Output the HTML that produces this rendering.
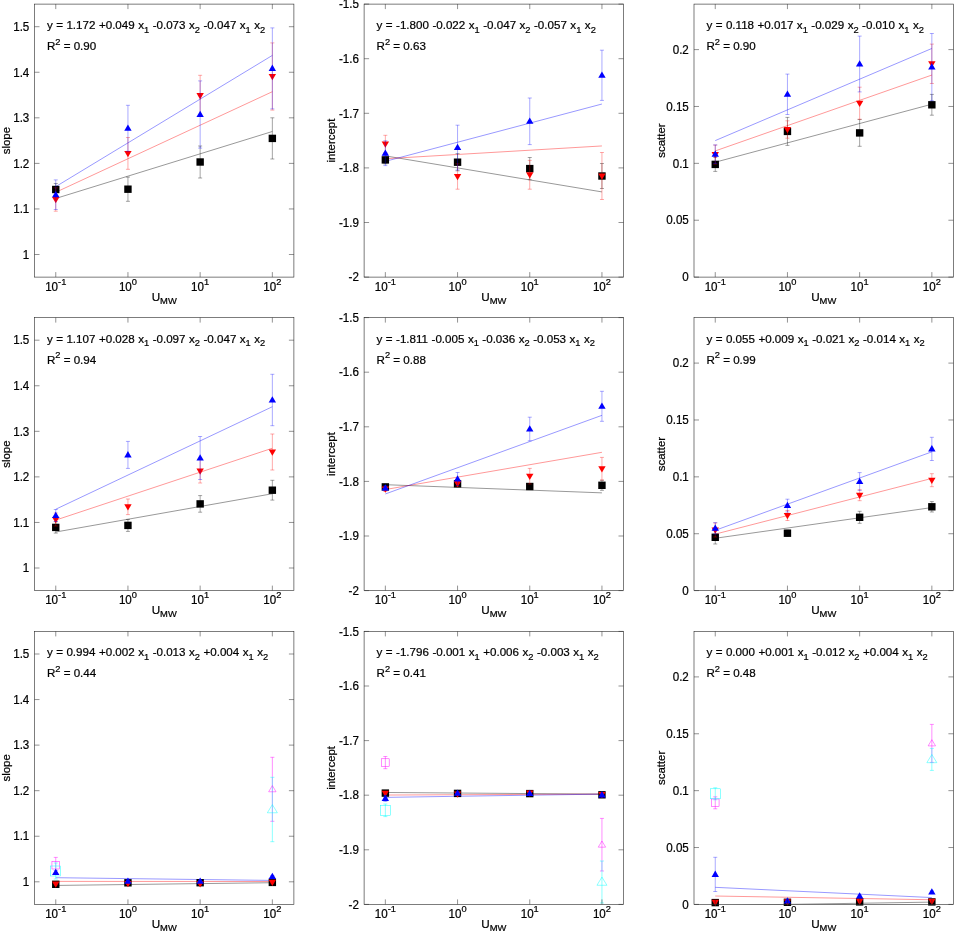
<!DOCTYPE html>
<html><head><meta charset="utf-8"><title>Regression panels</title>
<style>
html,body{margin:0;padding:0;background:#fff;}
body{width:954px;height:931px;overflow:hidden;font-family:"Liberation Sans",sans-serif;}
svg{display:block;will-change:transform;}
</style></head><body>
<svg width="954" height="931" viewBox="0 0 954 931" font-family="'Liberation Sans', sans-serif" fill="#000000">
<style>text{stroke:#000;stroke-width:0.22px;}</style>
<g>
<clipPath id="cp00"><rect x="34.5" y="4.1" width="259.4" height="273"/></clipPath>
<g clip-path="url(#cp00)">
<line x1="55.75" y1="198.46" x2="272.35" y2="131.49" stroke="#000000" stroke-width="0.41"/>
<line x1="55.75" y1="192.27" x2="272.35" y2="91.7" stroke="#ff0000" stroke-width="0.41"/>
<line x1="55.75" y1="186.62" x2="272.35" y2="55.4" stroke="#0000ff" stroke-width="0.41"/>
</g>
<path d="M55.75 183.5V195.5M53.75 183.5h4M53.75 195.5h4" stroke="#000000" stroke-width="0.36" fill="none"/>
<path d="M127.95 177.1V201.3M125.95 177.1h4M125.95 201.3h4" stroke="#000000" stroke-width="0.36" fill="none"/>
<path d="M200.15 146V178M198.15 146h4M198.15 178h4" stroke="#000000" stroke-width="0.36" fill="none"/>
<path d="M272.35 117.8V159M270.35 117.8h4M270.35 159h4" stroke="#000000" stroke-width="0.36" fill="none"/>
<rect x="52.05" y="185.8" width="7.4" height="7.4" fill="#000000"/>
<rect x="124.25" y="185.5" width="7.4" height="7.4" fill="#000000"/>
<rect x="196.45" y="158.3" width="7.4" height="7.4" fill="#000000"/>
<rect x="268.65" y="134.7" width="7.4" height="7.4" fill="#000000"/>
<path d="M55.75 187.8V211.2M53.75 187.8h4M53.75 211.2h4" stroke="#ff0000" stroke-width="0.34" fill="none"/>
<path d="M127.95 137.5V169.3M125.95 137.5h4M125.95 169.3h4" stroke="#ff0000" stroke-width="0.34" fill="none"/>
<path d="M200.15 75.3V115.9M198.15 75.3h4M198.15 115.9h4" stroke="#ff0000" stroke-width="0.34" fill="none"/>
<path d="M272.35 42.9V110.1M270.35 42.9h4M270.35 110.1h4" stroke="#ff0000" stroke-width="0.34" fill="none"/>
<polygon points="52.05,196.98 59.45,196.98 55.75,203.28" fill="#ff0000"/>
<polygon points="124.25,150.88 131.65,150.88 127.95,157.18" fill="#ff0000"/>
<polygon points="196.45,93.08 203.85,93.08 200.15,99.38" fill="#ff0000"/>
<polygon points="268.65,73.98 276.05,73.98 272.35,80.28" fill="#ff0000"/>
<path d="M55.75 179.9V209.5M53.75 179.9h4M53.75 209.5h4" stroke="#0000ff" stroke-width="0.34" fill="none"/>
<path d="M127.95 105.3V151.3M125.95 105.3h4M125.95 151.3h4" stroke="#0000ff" stroke-width="0.34" fill="none"/>
<path d="M200.15 80.9V148.1M198.15 80.9h4M198.15 148.1h4" stroke="#0000ff" stroke-width="0.34" fill="none"/>
<path d="M272.35 27.9V108.9M270.35 27.9h4M270.35 108.9h4" stroke="#0000ff" stroke-width="0.34" fill="none"/>
<polygon points="52.05,197.22 59.45,197.22 55.75,190.92" fill="#0000ff"/>
<polygon points="124.25,130.82 131.65,130.82 127.95,124.52" fill="#0000ff"/>
<polygon points="196.45,117.02 203.85,117.02 200.15,110.72" fill="#0000ff"/>
<polygon points="268.65,70.92 276.05,70.92 272.35,64.62" fill="#0000ff"/>
<rect x="34.5" y="4.1" width="259.4" height="273" fill="none" stroke="#262626" stroke-width="0.6"/>
<path d="M55.75 277.1v-5M55.75 4.1v5M127.95 277.1v-5M127.95 4.1v5M200.15 277.1v-5M200.15 4.1v5M272.35 277.1v-5M272.35 4.1v5M34.5 254.5h5M293.9 254.5h-5M34.5 208.94h5M293.9 208.94h-5M34.5 163.38h5M293.9 163.38h-5M34.5 117.82h5M293.9 117.82h-5M34.5 72.26h5M293.9 72.26h-5M34.5 26.7h5M293.9 26.7h-5" stroke="#262626" stroke-width="0.5" fill="none"/>
<text transform="translate(29.3 258.75) scale(1 1.07)" font-size="11.6" text-anchor="end">1</text>
<text transform="translate(29.3 213.19) scale(1 1.07)" font-size="11.6" text-anchor="end">1.1</text>
<text transform="translate(29.3 167.63) scale(1 1.07)" font-size="11.6" text-anchor="end">1.2</text>
<text transform="translate(29.3 122.07) scale(1 1.07)" font-size="11.6" text-anchor="end">1.3</text>
<text transform="translate(29.3 76.51) scale(1 1.07)" font-size="11.6" text-anchor="end">1.4</text>
<text transform="translate(29.3 30.95) scale(1 1.07)" font-size="11.6" text-anchor="end">1.5</text>
<text transform="translate(55.75 290.9) scale(1 1.07)" font-size="11.6" text-anchor="middle">10<tspan font-size="9.3" dy="-5.9">-1</tspan></text>
<text transform="translate(127.95 290.9) scale(1 1.07)" font-size="11.6" text-anchor="middle">10<tspan font-size="9.3" dy="-5.9">0</tspan></text>
<text transform="translate(200.15 290.9) scale(1 1.07)" font-size="11.6" text-anchor="middle">10<tspan font-size="9.3" dy="-5.9">1</tspan></text>
<text transform="translate(272.35 290.9) scale(1 1.07)" font-size="11.6" text-anchor="middle">10<tspan font-size="9.3" dy="-5.9">2</tspan></text>
<text x="164.2" y="300.7" font-size="11.7" text-anchor="middle">U<tspan font-size="9.4" dy="3.2">MW</tspan></text>
<text transform="translate(9.9 140.6) rotate(-90)" font-size="11.45" text-anchor="middle">slope</text>
<text x="46.9" y="29.1" font-size="11.6" word-spacing="0.26" xml:space="preserve">y = 1.172 +0.049 x<tspan dy="3.4" font-size="9.3">1</tspan><tspan dy="-3.4" font-size="11.6"> -0.073 x</tspan><tspan dy="3.4" font-size="9.3">2</tspan><tspan dy="-3.4" font-size="11.6"> -0.047 x</tspan><tspan dy="3.4" font-size="9.3">1</tspan><tspan dy="-3.4" font-size="11.6"> x</tspan><tspan dy="3.4" font-size="9.3">2</tspan></text>
<text x="46.9" y="50" font-size="11.6" xml:space="preserve">R<tspan font-size="9.3" dy="-5.1">2</tspan><tspan dy="5.1" font-size="11.6"> = 0.90</tspan></text>
</g>
<g>
<clipPath id="cp01"><rect x="364.1" y="4.1" width="259.4" height="273"/></clipPath>
<g clip-path="url(#cp01)">
<line x1="385.35" y1="155.89" x2="601.95" y2="191.92" stroke="#000000" stroke-width="0.41"/>
<line x1="385.35" y1="158.74" x2="601.95" y2="145.95" stroke="#ff0000" stroke-width="0.41"/>
<line x1="385.35" y1="161.35" x2="601.95" y2="104.02" stroke="#0000ff" stroke-width="0.41"/>
</g>
<path d="M385.35 155.9V163.9M383.35 155.9h4M383.35 163.9h4" stroke="#000000" stroke-width="0.36" fill="none"/>
<path d="M457.55 153.6V170.8M455.55 153.6h4M455.55 170.8h4" stroke="#000000" stroke-width="0.36" fill="none"/>
<path d="M529.75 157.5V179.7M527.75 157.5h4M527.75 179.7h4" stroke="#000000" stroke-width="0.36" fill="none"/>
<path d="M601.95 163.5V188.5M599.95 163.5h4M599.95 188.5h4" stroke="#000000" stroke-width="0.36" fill="none"/>
<rect x="381.65" y="156.2" width="7.4" height="7.4" fill="#000000"/>
<rect x="453.85" y="158.5" width="7.4" height="7.4" fill="#000000"/>
<rect x="526.05" y="164.9" width="7.4" height="7.4" fill="#000000"/>
<rect x="598.25" y="172.3" width="7.4" height="7.4" fill="#000000"/>
<path d="M385.35 135.3V152.7M383.35 135.3h4M383.35 152.7h4" stroke="#ff0000" stroke-width="0.34" fill="none"/>
<path d="M457.55 163.8V189.2M455.55 163.8h4M455.55 189.2h4" stroke="#ff0000" stroke-width="0.34" fill="none"/>
<path d="M529.75 160.4V189.2M527.75 160.4h4M527.75 189.2h4" stroke="#ff0000" stroke-width="0.34" fill="none"/>
<path d="M601.95 152.5V199.5M599.95 152.5h4M599.95 199.5h4" stroke="#ff0000" stroke-width="0.34" fill="none"/>
<polygon points="381.65,141.48 389.05,141.48 385.35,147.78" fill="#ff0000"/>
<polygon points="453.85,173.98 461.25,173.98 457.55,180.28" fill="#ff0000"/>
<polygon points="526.05,172.28 533.45,172.28 529.75,178.58" fill="#ff0000"/>
<polygon points="598.25,173.48 605.65,173.48 601.95,179.78" fill="#ff0000"/>
<path d="M385.35 140.8V165.6M383.35 140.8h4M383.35 165.6h4" stroke="#0000ff" stroke-width="0.34" fill="none"/>
<path d="M457.55 125.2V170M455.55 125.2h4M455.55 170h4" stroke="#0000ff" stroke-width="0.34" fill="none"/>
<path d="M529.75 98V144.6M527.75 98h4M527.75 144.6h4" stroke="#0000ff" stroke-width="0.34" fill="none"/>
<path d="M601.95 50.2V100.4M599.95 50.2h4M599.95 100.4h4" stroke="#0000ff" stroke-width="0.34" fill="none"/>
<polygon points="381.65,155.72 389.05,155.72 385.35,149.42" fill="#0000ff"/>
<polygon points="453.85,150.12 461.25,150.12 457.55,143.82" fill="#0000ff"/>
<polygon points="526.05,123.82 533.45,123.82 529.75,117.52" fill="#0000ff"/>
<polygon points="598.25,77.82 605.65,77.82 601.95,71.52" fill="#0000ff"/>
<rect x="364.1" y="4.1" width="259.4" height="273" fill="none" stroke="#262626" stroke-width="0.6"/>
<path d="M385.35 277.1v-5M385.35 4.1v5M457.55 277.1v-5M457.55 4.1v5M529.75 277.1v-5M529.75 4.1v5M601.95 277.1v-5M601.95 4.1v5M364.1 277.1h5M623.5 277.1h-5M364.1 222.5h5M623.5 222.5h-5M364.1 167.9h5M623.5 167.9h-5M364.1 113.3h5M623.5 113.3h-5M364.1 58.7h5M623.5 58.7h-5M364.1 4.1h5M623.5 4.1h-5" stroke="#262626" stroke-width="0.5" fill="none"/>
<text transform="translate(358.9 281.35) scale(1 1.07)" font-size="11.6" text-anchor="end">-2</text>
<text transform="translate(358.9 226.75) scale(1 1.07)" font-size="11.6" text-anchor="end">-1.9</text>
<text transform="translate(358.9 172.15) scale(1 1.07)" font-size="11.6" text-anchor="end">-1.8</text>
<text transform="translate(358.9 117.55) scale(1 1.07)" font-size="11.6" text-anchor="end">-1.7</text>
<text transform="translate(358.9 62.95) scale(1 1.07)" font-size="11.6" text-anchor="end">-1.6</text>
<text transform="translate(358.9 8.35) scale(1 1.07)" font-size="11.6" text-anchor="end">-1.5</text>
<text transform="translate(385.35 290.9) scale(1 1.07)" font-size="11.6" text-anchor="middle">10<tspan font-size="9.3" dy="-5.9">-1</tspan></text>
<text transform="translate(457.55 290.9) scale(1 1.07)" font-size="11.6" text-anchor="middle">10<tspan font-size="9.3" dy="-5.9">0</tspan></text>
<text transform="translate(529.75 290.9) scale(1 1.07)" font-size="11.6" text-anchor="middle">10<tspan font-size="9.3" dy="-5.9">1</tspan></text>
<text transform="translate(601.95 290.9) scale(1 1.07)" font-size="11.6" text-anchor="middle">10<tspan font-size="9.3" dy="-5.9">2</tspan></text>
<text x="493.8" y="300.7" font-size="11.7" text-anchor="middle">U<tspan font-size="9.4" dy="3.2">MW</tspan></text>
<text transform="translate(335 140.6) rotate(-90)" font-size="11.45" text-anchor="middle">intercept</text>
<text x="376.5" y="29.1" font-size="11.6" word-spacing="0.26" xml:space="preserve">y = -1.800 -0.022 x<tspan dy="3.4" font-size="9.3">1</tspan><tspan dy="-3.4" font-size="11.6"> -0.047 x</tspan><tspan dy="3.4" font-size="9.3">2</tspan><tspan dy="-3.4" font-size="11.6"> -0.057 x</tspan><tspan dy="3.4" font-size="9.3">1</tspan><tspan dy="-3.4" font-size="11.6"> x</tspan><tspan dy="3.4" font-size="9.3">2</tspan></text>
<text x="376.5" y="50" font-size="11.6" xml:space="preserve">R<tspan font-size="9.3" dy="-5.1">2</tspan><tspan dy="5.1" font-size="11.6"> = 0.63</tspan></text>
</g>
<g>
<clipPath id="cp02"><rect x="694" y="4.1" width="259.4" height="273"/></clipPath>
<g clip-path="url(#cp02)">
<line x1="715.25" y1="162.21" x2="931.85" y2="104.2" stroke="#000000" stroke-width="0.41"/>
<line x1="715.25" y1="150.91" x2="931.85" y2="75.05" stroke="#ff0000" stroke-width="0.41"/>
<line x1="715.25" y1="140.6" x2="931.85" y2="48.46" stroke="#0000ff" stroke-width="0.41"/>
</g>
<path d="M715.25 157.4V171.4M713.25 157.4h4M713.25 171.4h4" stroke="#000000" stroke-width="0.36" fill="none"/>
<path d="M787.45 117.4V145.4M785.45 117.4h4M785.45 145.4h4" stroke="#000000" stroke-width="0.36" fill="none"/>
<path d="M859.65 119.5V146.3M857.65 119.5h4M857.65 146.3h4" stroke="#000000" stroke-width="0.36" fill="none"/>
<path d="M931.85 94.4V115.2M929.85 94.4h4M929.85 115.2h4" stroke="#000000" stroke-width="0.36" fill="none"/>
<rect x="711.55" y="160.7" width="7.4" height="7.4" fill="#000000"/>
<rect x="783.75" y="127.7" width="7.4" height="7.4" fill="#000000"/>
<rect x="855.95" y="129.2" width="7.4" height="7.4" fill="#000000"/>
<rect x="928.15" y="101.1" width="7.4" height="7.4" fill="#000000"/>
<path d="M715.25 145.1V164.1M713.25 145.1h4M713.25 164.1h4" stroke="#ff0000" stroke-width="0.34" fill="none"/>
<path d="M787.45 120.8V138.2M785.45 120.8h4M785.45 138.2h4" stroke="#ff0000" stroke-width="0.34" fill="none"/>
<path d="M859.65 87.2V119.2M857.65 87.2h4M857.65 119.2h4" stroke="#ff0000" stroke-width="0.34" fill="none"/>
<path d="M931.85 44.1V83.5M929.85 44.1h4M929.85 83.5h4" stroke="#ff0000" stroke-width="0.34" fill="none"/>
<polygon points="711.55,152.08 718.95,152.08 715.25,158.38" fill="#ff0000"/>
<polygon points="783.75,126.98 791.15,126.98 787.45,133.28" fill="#ff0000"/>
<polygon points="855.95,100.68 863.35,100.68 859.65,106.98" fill="#ff0000"/>
<polygon points="928.15,61.28 935.55,61.28 931.85,67.58" fill="#ff0000"/>
<path d="M715.25 144.9V163.5M713.25 144.9h4M713.25 163.5h4" stroke="#0000ff" stroke-width="0.34" fill="none"/>
<path d="M787.45 74.1V114.5M785.45 74.1h4M785.45 114.5h4" stroke="#0000ff" stroke-width="0.34" fill="none"/>
<path d="M859.65 36.1V91.9M857.65 36.1h4M857.65 91.9h4" stroke="#0000ff" stroke-width="0.34" fill="none"/>
<path d="M931.85 33.5V100.7M929.85 33.5h4M929.85 100.7h4" stroke="#0000ff" stroke-width="0.34" fill="none"/>
<polygon points="711.55,156.72 718.95,156.72 715.25,150.42" fill="#0000ff"/>
<polygon points="783.75,96.82 791.15,96.82 787.45,90.52" fill="#0000ff"/>
<polygon points="855.95,66.52 863.35,66.52 859.65,60.22" fill="#0000ff"/>
<polygon points="928.15,69.62 935.55,69.62 931.85,63.32" fill="#0000ff"/>
<rect x="694" y="4.1" width="259.4" height="273" fill="none" stroke="#262626" stroke-width="0.6"/>
<path d="M715.25 277.1v-5M715.25 4.1v5M787.45 277.1v-5M787.45 4.1v5M859.65 277.1v-5M859.65 4.1v5M931.85 277.1v-5M931.85 4.1v5M694 277.1h5M953.4 277.1h-5M694 220.23h5M953.4 220.23h-5M694 163.35h5M953.4 163.35h-5M694 106.48h5M953.4 106.48h-5M694 49.6h5M953.4 49.6h-5" stroke="#262626" stroke-width="0.5" fill="none"/>
<text transform="translate(688.8 281.35) scale(1 1.07)" font-size="11.6" text-anchor="end">0</text>
<text transform="translate(688.8 224.48) scale(1 1.07)" font-size="11.6" text-anchor="end">0.05</text>
<text transform="translate(688.8 167.6) scale(1 1.07)" font-size="11.6" text-anchor="end">0.1</text>
<text transform="translate(688.8 110.73) scale(1 1.07)" font-size="11.6" text-anchor="end">0.15</text>
<text transform="translate(688.8 53.85) scale(1 1.07)" font-size="11.6" text-anchor="end">0.2</text>
<text transform="translate(715.25 290.9) scale(1 1.07)" font-size="11.6" text-anchor="middle">10<tspan font-size="9.3" dy="-5.9">-1</tspan></text>
<text transform="translate(787.45 290.9) scale(1 1.07)" font-size="11.6" text-anchor="middle">10<tspan font-size="9.3" dy="-5.9">0</tspan></text>
<text transform="translate(859.65 290.9) scale(1 1.07)" font-size="11.6" text-anchor="middle">10<tspan font-size="9.3" dy="-5.9">1</tspan></text>
<text transform="translate(931.85 290.9) scale(1 1.07)" font-size="11.6" text-anchor="middle">10<tspan font-size="9.3" dy="-5.9">2</tspan></text>
<text x="823.7" y="300.7" font-size="11.7" text-anchor="middle">U<tspan font-size="9.4" dy="3.2">MW</tspan></text>
<text transform="translate(665.2 140.6) rotate(-90)" font-size="11.45" text-anchor="middle">scatter</text>
<text x="706.4" y="29.1" font-size="11.6" word-spacing="0.26" xml:space="preserve">y = 0.118 +0.017 x<tspan dy="3.4" font-size="9.3">1</tspan><tspan dy="-3.4" font-size="11.6"> -0.029 x</tspan><tspan dy="3.4" font-size="9.3">2</tspan><tspan dy="-3.4" font-size="11.6"> -0.010 x</tspan><tspan dy="3.4" font-size="9.3">1</tspan><tspan dy="-3.4" font-size="11.6"> x</tspan><tspan dy="3.4" font-size="9.3">2</tspan></text>
<text x="706.4" y="50" font-size="11.6" xml:space="preserve">R<tspan font-size="9.3" dy="-5.1">2</tspan><tspan dy="5.1" font-size="11.6"> = 0.90</tspan></text>
</g>
<g>
<clipPath id="cp10"><rect x="34.5" y="317.6" width="259.4" height="273"/></clipPath>
<g clip-path="url(#cp10)">
<line x1="55.75" y1="532.01" x2="272.35" y2="493.74" stroke="#000000" stroke-width="0.41"/>
<line x1="55.75" y1="520.09" x2="272.35" y2="448.23" stroke="#ff0000" stroke-width="0.41"/>
<line x1="55.75" y1="509.23" x2="272.35" y2="406.72" stroke="#0000ff" stroke-width="0.41"/>
</g>
<path d="M55.75 521.7V533.1M53.75 521.7h4M53.75 533.1h4" stroke="#000000" stroke-width="0.36" fill="none"/>
<path d="M127.95 519.4V531.4M125.95 519.4h4M125.95 531.4h4" stroke="#000000" stroke-width="0.36" fill="none"/>
<path d="M200.15 495.6V512.2M198.15 495.6h4M198.15 512.2h4" stroke="#000000" stroke-width="0.36" fill="none"/>
<path d="M272.35 480.3V500.1M270.35 480.3h4M270.35 500.1h4" stroke="#000000" stroke-width="0.36" fill="none"/>
<rect x="52.05" y="523.7" width="7.4" height="7.4" fill="#000000"/>
<rect x="124.25" y="521.7" width="7.4" height="7.4" fill="#000000"/>
<rect x="196.45" y="500.2" width="7.4" height="7.4" fill="#000000"/>
<rect x="268.65" y="486.5" width="7.4" height="7.4" fill="#000000"/>
<path d="M55.75 513V526M53.75 513h4M53.75 526h4" stroke="#ff0000" stroke-width="0.34" fill="none"/>
<path d="M127.95 499V514.6M125.95 499h4M125.95 514.6h4" stroke="#ff0000" stroke-width="0.34" fill="none"/>
<path d="M200.15 459V483M198.15 459h4M198.15 483h4" stroke="#ff0000" stroke-width="0.34" fill="none"/>
<path d="M272.35 434V470M270.35 434h4M270.35 470h4" stroke="#ff0000" stroke-width="0.34" fill="none"/>
<polygon points="52.05,516.98 59.45,516.98 55.75,523.28" fill="#ff0000"/>
<polygon points="124.25,504.28 131.65,504.28 127.95,510.58" fill="#ff0000"/>
<polygon points="196.45,468.48 203.85,468.48 200.15,474.78" fill="#ff0000"/>
<polygon points="268.65,449.48 276.05,449.48 272.35,455.78" fill="#ff0000"/>
<path d="M55.75 509.5V521.5M53.75 509.5h4M53.75 521.5h4" stroke="#0000ff" stroke-width="0.34" fill="none"/>
<path d="M127.95 441.4V468.4M125.95 441.4h4M125.95 468.4h4" stroke="#0000ff" stroke-width="0.34" fill="none"/>
<path d="M200.15 436.5V479.5M198.15 436.5h4M198.15 479.5h4" stroke="#0000ff" stroke-width="0.34" fill="none"/>
<path d="M272.35 374.3V425.7M270.35 374.3h4M270.35 425.7h4" stroke="#0000ff" stroke-width="0.34" fill="none"/>
<polygon points="52.05,518.02 59.45,518.02 55.75,511.72" fill="#0000ff"/>
<polygon points="124.25,457.42 131.65,457.42 127.95,451.12" fill="#0000ff"/>
<polygon points="196.45,460.52 203.85,460.52 200.15,454.22" fill="#0000ff"/>
<polygon points="268.65,402.52 276.05,402.52 272.35,396.22" fill="#0000ff"/>
<rect x="34.5" y="317.6" width="259.4" height="273" fill="none" stroke="#262626" stroke-width="0.6"/>
<path d="M55.75 590.6v-5M55.75 317.6v5M127.95 590.6v-5M127.95 317.6v5M200.15 590.6v-5M200.15 317.6v5M272.35 590.6v-5M272.35 317.6v5M34.5 568h5M293.9 568h-5M34.5 522.44h5M293.9 522.44h-5M34.5 476.88h5M293.9 476.88h-5M34.5 431.32h5M293.9 431.32h-5M34.5 385.76h5M293.9 385.76h-5M34.5 340.2h5M293.9 340.2h-5" stroke="#262626" stroke-width="0.5" fill="none"/>
<text transform="translate(29.3 572.25) scale(1 1.07)" font-size="11.6" text-anchor="end">1</text>
<text transform="translate(29.3 526.69) scale(1 1.07)" font-size="11.6" text-anchor="end">1.1</text>
<text transform="translate(29.3 481.13) scale(1 1.07)" font-size="11.6" text-anchor="end">1.2</text>
<text transform="translate(29.3 435.57) scale(1 1.07)" font-size="11.6" text-anchor="end">1.3</text>
<text transform="translate(29.3 390.01) scale(1 1.07)" font-size="11.6" text-anchor="end">1.4</text>
<text transform="translate(29.3 344.45) scale(1 1.07)" font-size="11.6" text-anchor="end">1.5</text>
<text transform="translate(55.75 604.4) scale(1 1.07)" font-size="11.6" text-anchor="middle">10<tspan font-size="9.3" dy="-5.9">-1</tspan></text>
<text transform="translate(127.95 604.4) scale(1 1.07)" font-size="11.6" text-anchor="middle">10<tspan font-size="9.3" dy="-5.9">0</tspan></text>
<text transform="translate(200.15 604.4) scale(1 1.07)" font-size="11.6" text-anchor="middle">10<tspan font-size="9.3" dy="-5.9">1</tspan></text>
<text transform="translate(272.35 604.4) scale(1 1.07)" font-size="11.6" text-anchor="middle">10<tspan font-size="9.3" dy="-5.9">2</tspan></text>
<text x="164.2" y="614.2" font-size="11.7" text-anchor="middle">U<tspan font-size="9.4" dy="3.2">MW</tspan></text>
<text transform="translate(9.9 454.1) rotate(-90)" font-size="11.45" text-anchor="middle">slope</text>
<text x="46.9" y="342.6" font-size="11.6" word-spacing="0.26" xml:space="preserve">y = 1.107 +0.028 x<tspan dy="3.4" font-size="9.3">1</tspan><tspan dy="-3.4" font-size="11.6"> -0.097 x</tspan><tspan dy="3.4" font-size="9.3">2</tspan><tspan dy="-3.4" font-size="11.6"> -0.047 x</tspan><tspan dy="3.4" font-size="9.3">1</tspan><tspan dy="-3.4" font-size="11.6"> x</tspan><tspan dy="3.4" font-size="9.3">2</tspan></text>
<text x="46.9" y="363.5" font-size="11.6" xml:space="preserve">R<tspan font-size="9.3" dy="-5.1">2</tspan><tspan dy="5.1" font-size="11.6"> = 0.94</tspan></text>
</g>
<g>
<clipPath id="cp11"><rect x="364.1" y="317.6" width="259.4" height="273"/></clipPath>
<g clip-path="url(#cp11)">
<line x1="385.35" y1="484.68" x2="601.95" y2="492.87" stroke="#000000" stroke-width="0.41"/>
<line x1="385.35" y1="489.53" x2="601.95" y2="452.32" stroke="#ff0000" stroke-width="0.41"/>
<line x1="385.35" y1="493.96" x2="601.95" y2="415.33" stroke="#0000ff" stroke-width="0.41"/>
</g>
<path d="M385.35 484.9V488.9M383.35 484.9h4M383.35 488.9h4" stroke="#000000" stroke-width="0.36" fill="none"/>
<path d="M457.55 481.8V485.8M455.55 481.8h4M455.55 485.8h4" stroke="#000000" stroke-width="0.36" fill="none"/>
<path d="M529.75 484.5V488.5M527.75 484.5h4M527.75 488.5h4" stroke="#000000" stroke-width="0.36" fill="none"/>
<path d="M601.95 480.3V490.3M599.95 480.3h4M599.95 490.3h4" stroke="#000000" stroke-width="0.36" fill="none"/>
<rect x="381.65" y="483.2" width="7.4" height="7.4" fill="#000000"/>
<rect x="453.85" y="480.1" width="7.4" height="7.4" fill="#000000"/>
<rect x="526.05" y="482.8" width="7.4" height="7.4" fill="#000000"/>
<rect x="598.25" y="481.6" width="7.4" height="7.4" fill="#000000"/>
<path d="M385.35 486.5V491.5M383.35 486.5h4M383.35 491.5h4" stroke="#ff0000" stroke-width="0.34" fill="none"/>
<path d="M457.55 480.5V486.5M455.55 480.5h4M455.55 486.5h4" stroke="#ff0000" stroke-width="0.34" fill="none"/>
<path d="M529.75 468.4V484M527.75 468.4h4M527.75 484h4" stroke="#ff0000" stroke-width="0.34" fill="none"/>
<path d="M601.95 457.4V480M599.95 457.4h4M599.95 480h4" stroke="#ff0000" stroke-width="0.34" fill="none"/>
<polygon points="381.65,486.48 389.05,486.48 385.35,492.78" fill="#ff0000"/>
<polygon points="453.85,480.98 461.25,480.98 457.55,487.28" fill="#ff0000"/>
<polygon points="526.05,473.68 533.45,473.68 529.75,479.98" fill="#ff0000"/>
<polygon points="598.25,466.18 605.65,466.18 601.95,472.48" fill="#ff0000"/>
<path d="M385.35 485.5V490.5M383.35 485.5h4M383.35 490.5h4" stroke="#0000ff" stroke-width="0.34" fill="none"/>
<path d="M457.55 472.5V485.5M455.55 472.5h4M455.55 485.5h4" stroke="#0000ff" stroke-width="0.34" fill="none"/>
<path d="M529.75 417.2V440.8M527.75 417.2h4M527.75 440.8h4" stroke="#0000ff" stroke-width="0.34" fill="none"/>
<path d="M601.95 391.3V421.3M599.95 391.3h4M599.95 421.3h4" stroke="#0000ff" stroke-width="0.34" fill="none"/>
<polygon points="381.65,490.52 389.05,490.52 385.35,484.22" fill="#0000ff"/>
<polygon points="453.85,481.52 461.25,481.52 457.55,475.22" fill="#0000ff"/>
<polygon points="526.05,431.52 533.45,431.52 529.75,425.22" fill="#0000ff"/>
<polygon points="598.25,408.82 605.65,408.82 601.95,402.52" fill="#0000ff"/>
<rect x="364.1" y="317.6" width="259.4" height="273" fill="none" stroke="#262626" stroke-width="0.6"/>
<path d="M385.35 590.6v-5M385.35 317.6v5M457.55 590.6v-5M457.55 317.6v5M529.75 590.6v-5M529.75 317.6v5M601.95 590.6v-5M601.95 317.6v5M364.1 590.6h5M623.5 590.6h-5M364.1 536h5M623.5 536h-5M364.1 481.4h5M623.5 481.4h-5M364.1 426.8h5M623.5 426.8h-5M364.1 372.2h5M623.5 372.2h-5M364.1 317.6h5M623.5 317.6h-5" stroke="#262626" stroke-width="0.5" fill="none"/>
<text transform="translate(358.9 594.85) scale(1 1.07)" font-size="11.6" text-anchor="end">-2</text>
<text transform="translate(358.9 540.25) scale(1 1.07)" font-size="11.6" text-anchor="end">-1.9</text>
<text transform="translate(358.9 485.65) scale(1 1.07)" font-size="11.6" text-anchor="end">-1.8</text>
<text transform="translate(358.9 431.05) scale(1 1.07)" font-size="11.6" text-anchor="end">-1.7</text>
<text transform="translate(358.9 376.45) scale(1 1.07)" font-size="11.6" text-anchor="end">-1.6</text>
<text transform="translate(358.9 321.85) scale(1 1.07)" font-size="11.6" text-anchor="end">-1.5</text>
<text transform="translate(385.35 604.4) scale(1 1.07)" font-size="11.6" text-anchor="middle">10<tspan font-size="9.3" dy="-5.9">-1</tspan></text>
<text transform="translate(457.55 604.4) scale(1 1.07)" font-size="11.6" text-anchor="middle">10<tspan font-size="9.3" dy="-5.9">0</tspan></text>
<text transform="translate(529.75 604.4) scale(1 1.07)" font-size="11.6" text-anchor="middle">10<tspan font-size="9.3" dy="-5.9">1</tspan></text>
<text transform="translate(601.95 604.4) scale(1 1.07)" font-size="11.6" text-anchor="middle">10<tspan font-size="9.3" dy="-5.9">2</tspan></text>
<text x="493.8" y="614.2" font-size="11.7" text-anchor="middle">U<tspan font-size="9.4" dy="3.2">MW</tspan></text>
<text transform="translate(335 454.1) rotate(-90)" font-size="11.45" text-anchor="middle">intercept</text>
<text x="376.5" y="342.6" font-size="11.6" word-spacing="0.26" xml:space="preserve">y = -1.811 -0.005 x<tspan dy="3.4" font-size="9.3">1</tspan><tspan dy="-3.4" font-size="11.6"> -0.036 x</tspan><tspan dy="3.4" font-size="9.3">2</tspan><tspan dy="-3.4" font-size="11.6"> -0.053 x</tspan><tspan dy="3.4" font-size="9.3">1</tspan><tspan dy="-3.4" font-size="11.6"> x</tspan><tspan dy="3.4" font-size="9.3">2</tspan></text>
<text x="376.5" y="363.5" font-size="11.6" xml:space="preserve">R<tspan font-size="9.3" dy="-5.1">2</tspan><tspan dy="5.1" font-size="11.6"> = 0.88</tspan></text>
</g>
<g>
<clipPath id="cp12"><rect x="694" y="317.6" width="259.4" height="273"/></clipPath>
<g clip-path="url(#cp12)">
<line x1="715.25" y1="538.27" x2="931.85" y2="507.56" stroke="#000000" stroke-width="0.41"/>
<line x1="715.25" y1="534.11" x2="931.85" y2="478.41" stroke="#ff0000" stroke-width="0.41"/>
<line x1="715.25" y1="530.31" x2="931.85" y2="451.83" stroke="#0000ff" stroke-width="0.41"/>
</g>
<path d="M715.25 530.6V544M713.25 530.6h4M713.25 544h4" stroke="#000000" stroke-width="0.36" fill="none"/>
<path d="M787.45 530.2V536.2M785.45 530.2h4M785.45 536.2h4" stroke="#000000" stroke-width="0.36" fill="none"/>
<path d="M859.65 511.3V523.3M857.65 511.3h4M857.65 523.3h4" stroke="#000000" stroke-width="0.36" fill="none"/>
<path d="M931.85 501.6V512M929.85 501.6h4M929.85 512h4" stroke="#000000" stroke-width="0.36" fill="none"/>
<rect x="711.55" y="533.6" width="7.4" height="7.4" fill="#000000"/>
<rect x="783.75" y="529.5" width="7.4" height="7.4" fill="#000000"/>
<rect x="855.95" y="513.6" width="7.4" height="7.4" fill="#000000"/>
<rect x="928.15" y="503.1" width="7.4" height="7.4" fill="#000000"/>
<path d="M715.25 523V537M713.25 523h4M713.25 537h4" stroke="#ff0000" stroke-width="0.34" fill="none"/>
<path d="M787.45 510.5V520.5M785.45 510.5h4M785.45 520.5h4" stroke="#ff0000" stroke-width="0.34" fill="none"/>
<path d="M859.65 489.7V500.7M857.65 489.7h4M857.65 500.7h4" stroke="#ff0000" stroke-width="0.34" fill="none"/>
<path d="M931.85 473.7V486.7M929.85 473.7h4M929.85 486.7h4" stroke="#ff0000" stroke-width="0.34" fill="none"/>
<polygon points="711.55,527.48 718.95,527.48 715.25,533.78" fill="#ff0000"/>
<polygon points="783.75,512.98 791.15,512.98 787.45,519.28" fill="#ff0000"/>
<polygon points="855.95,492.68 863.35,492.68 859.65,498.98" fill="#ff0000"/>
<polygon points="928.15,477.68 935.55,477.68 931.85,483.98" fill="#ff0000"/>
<path d="M715.25 522.6V534M713.25 522.6h4M713.25 534h4" stroke="#0000ff" stroke-width="0.34" fill="none"/>
<path d="M787.45 499.2V512M785.45 499.2h4M785.45 512h4" stroke="#0000ff" stroke-width="0.34" fill="none"/>
<path d="M859.65 472.6V490.4M857.65 472.6h4M857.65 490.4h4" stroke="#0000ff" stroke-width="0.34" fill="none"/>
<path d="M931.85 437.3V460.5M929.85 437.3h4M929.85 460.5h4" stroke="#0000ff" stroke-width="0.34" fill="none"/>
<polygon points="711.55,530.82 718.95,530.82 715.25,524.52" fill="#0000ff"/>
<polygon points="783.75,508.12 791.15,508.12 787.45,501.82" fill="#0000ff"/>
<polygon points="855.95,484.02 863.35,484.02 859.65,477.72" fill="#0000ff"/>
<polygon points="928.15,451.42 935.55,451.42 931.85,445.12" fill="#0000ff"/>
<rect x="694" y="317.6" width="259.4" height="273" fill="none" stroke="#262626" stroke-width="0.6"/>
<path d="M715.25 590.6v-5M715.25 317.6v5M787.45 590.6v-5M787.45 317.6v5M859.65 590.6v-5M859.65 317.6v5M931.85 590.6v-5M931.85 317.6v5M694 590.6h5M953.4 590.6h-5M694 533.73h5M953.4 533.73h-5M694 476.85h5M953.4 476.85h-5M694 419.98h5M953.4 419.98h-5M694 363.1h5M953.4 363.1h-5" stroke="#262626" stroke-width="0.5" fill="none"/>
<text transform="translate(688.8 594.85) scale(1 1.07)" font-size="11.6" text-anchor="end">0</text>
<text transform="translate(688.8 537.98) scale(1 1.07)" font-size="11.6" text-anchor="end">0.05</text>
<text transform="translate(688.8 481.1) scale(1 1.07)" font-size="11.6" text-anchor="end">0.1</text>
<text transform="translate(688.8 424.23) scale(1 1.07)" font-size="11.6" text-anchor="end">0.15</text>
<text transform="translate(688.8 367.35) scale(1 1.07)" font-size="11.6" text-anchor="end">0.2</text>
<text transform="translate(715.25 604.4) scale(1 1.07)" font-size="11.6" text-anchor="middle">10<tspan font-size="9.3" dy="-5.9">-1</tspan></text>
<text transform="translate(787.45 604.4) scale(1 1.07)" font-size="11.6" text-anchor="middle">10<tspan font-size="9.3" dy="-5.9">0</tspan></text>
<text transform="translate(859.65 604.4) scale(1 1.07)" font-size="11.6" text-anchor="middle">10<tspan font-size="9.3" dy="-5.9">1</tspan></text>
<text transform="translate(931.85 604.4) scale(1 1.07)" font-size="11.6" text-anchor="middle">10<tspan font-size="9.3" dy="-5.9">2</tspan></text>
<text x="823.7" y="614.2" font-size="11.7" text-anchor="middle">U<tspan font-size="9.4" dy="3.2">MW</tspan></text>
<text transform="translate(665.2 454.1) rotate(-90)" font-size="11.45" text-anchor="middle">scatter</text>
<text x="706.4" y="342.6" font-size="11.6" word-spacing="0.26" xml:space="preserve">y = 0.055 +0.009 x<tspan dy="3.4" font-size="9.3">1</tspan><tspan dy="-3.4" font-size="11.6"> -0.021 x</tspan><tspan dy="3.4" font-size="9.3">2</tspan><tspan dy="-3.4" font-size="11.6"> -0.014 x</tspan><tspan dy="3.4" font-size="9.3">1</tspan><tspan dy="-3.4" font-size="11.6"> x</tspan><tspan dy="3.4" font-size="9.3">2</tspan></text>
<text x="706.4" y="363.5" font-size="11.6" xml:space="preserve">R<tspan font-size="9.3" dy="-5.1">2</tspan><tspan dy="5.1" font-size="11.6"> = 0.99</tspan></text>
</g>
<g>
<clipPath id="cp20"><rect x="34.5" y="631.4" width="259.4" height="273"/></clipPath>
<g clip-path="url(#cp20)">
<line x1="55.75" y1="885.44" x2="272.35" y2="882.71" stroke="#000000" stroke-width="0.41"/>
<line x1="55.75" y1="881.39" x2="272.35" y2="881.52" stroke="#ff0000" stroke-width="0.41"/>
<line x1="55.75" y1="877.7" x2="272.35" y2="880.43" stroke="#0000ff" stroke-width="0.41"/>
</g>
<g clip-path="url(#cp20)">
<path d="M55.75 857.4V873M53.75 857.4h4M53.75 873h4" stroke="#ff00ff" stroke-width="0.45" fill="none"/>
<path d="M272.35 757.3V821.3M270.35 757.3h4M270.35 821.3h4" stroke="#ff00ff" stroke-width="0.45" fill="none"/>
<path d="M55.75 863V879M53.75 863h4M53.75 879h4" stroke="#00ffff" stroke-width="0.45" fill="none"/>
<path d="M272.35 777.3V841.7M270.35 777.3h4M270.35 841.7h4" stroke="#00ffff" stroke-width="0.45" fill="none"/>
</g>
<rect x="51.95" y="861.4" width="7.6" height="7.6" fill="none" stroke="#ff00ff" stroke-width="0.45"/>
<polygon points="268.65,791.78 276.05,791.78 272.35,785.58" fill="none" stroke="#ff00ff" stroke-width="0.45"/>
<rect x="50.75" y="866" width="10" height="10" fill="none" stroke="#00ffff" stroke-width="0.45"/>
<polygon points="267.35,812.78 277.35,812.78 272.35,804.58" fill="none" stroke="#00ffff" stroke-width="0.45"/>
<path d="M55.75 883.3V885.3M53.75 883.3h4M53.75 885.3h4" stroke="#000000" stroke-width="0.36" fill="none"/>
<path d="M127.95 881.8V883.8M125.95 881.8h4M125.95 883.8h4" stroke="#000000" stroke-width="0.36" fill="none"/>
<path d="M200.15 881.7V883.7M198.15 881.7h4M198.15 883.7h4" stroke="#000000" stroke-width="0.36" fill="none"/>
<path d="M272.35 881.4V883.4M270.35 881.4h4M270.35 883.4h4" stroke="#000000" stroke-width="0.36" fill="none"/>
<rect x="52.05" y="880.6" width="7.4" height="7.4" fill="#000000"/>
<rect x="124.25" y="879.1" width="7.4" height="7.4" fill="#000000"/>
<rect x="196.45" y="879" width="7.4" height="7.4" fill="#000000"/>
<rect x="268.65" y="878.7" width="7.4" height="7.4" fill="#000000"/>
<path d="M55.75 883V885M53.75 883h4M53.75 885h4" stroke="#ff0000" stroke-width="0.34" fill="none"/>
<path d="M127.95 882.5V884.5M125.95 882.5h4M125.95 884.5h4" stroke="#ff0000" stroke-width="0.34" fill="none"/>
<path d="M200.15 882.8V884.8M198.15 882.8h4M198.15 884.8h4" stroke="#ff0000" stroke-width="0.34" fill="none"/>
<path d="M272.35 881.2V883.2M270.35 881.2h4M270.35 883.2h4" stroke="#ff0000" stroke-width="0.34" fill="none"/>
<polygon points="52.05,881.48 59.45,881.48 55.75,887.78" fill="#ff0000"/>
<polygon points="124.25,880.98 131.65,880.98 127.95,887.28" fill="#ff0000"/>
<polygon points="196.45,881.28 203.85,881.28 200.15,887.58" fill="#ff0000"/>
<polygon points="268.65,879.68 276.05,879.68 272.35,885.98" fill="#ff0000"/>
<path d="M55.75 870.5V874.5M53.75 870.5h4M53.75 874.5h4" stroke="#0000ff" stroke-width="0.34" fill="none"/>
<path d="M127.95 880.2V882.2M125.95 880.2h4M125.95 882.2h4" stroke="#0000ff" stroke-width="0.34" fill="none"/>
<path d="M200.15 880.2V882.2M198.15 880.2h4M198.15 882.2h4" stroke="#0000ff" stroke-width="0.34" fill="none"/>
<path d="M272.35 875.5V877.5M270.35 875.5h4M270.35 877.5h4" stroke="#0000ff" stroke-width="0.34" fill="none"/>
<polygon points="52.05,875.02 59.45,875.02 55.75,868.72" fill="#0000ff"/>
<polygon points="124.25,883.72 131.65,883.72 127.95,877.42" fill="#0000ff"/>
<polygon points="196.45,883.72 203.85,883.72 200.15,877.42" fill="#0000ff"/>
<polygon points="268.65,879.02 276.05,879.02 272.35,872.72" fill="#0000ff"/>
<rect x="34.5" y="631.4" width="259.4" height="273" fill="none" stroke="#262626" stroke-width="0.6"/>
<path d="M55.75 904.4v-5M55.75 631.4v5M127.95 904.4v-5M127.95 631.4v5M200.15 904.4v-5M200.15 631.4v5M272.35 904.4v-5M272.35 631.4v5M34.5 881.8h5M293.9 881.8h-5M34.5 836.24h5M293.9 836.24h-5M34.5 790.68h5M293.9 790.68h-5M34.5 745.12h5M293.9 745.12h-5M34.5 699.56h5M293.9 699.56h-5M34.5 654h5M293.9 654h-5" stroke="#262626" stroke-width="0.5" fill="none"/>
<text transform="translate(29.3 886.05) scale(1 1.07)" font-size="11.6" text-anchor="end">1</text>
<text transform="translate(29.3 840.49) scale(1 1.07)" font-size="11.6" text-anchor="end">1.1</text>
<text transform="translate(29.3 794.93) scale(1 1.07)" font-size="11.6" text-anchor="end">1.2</text>
<text transform="translate(29.3 749.37) scale(1 1.07)" font-size="11.6" text-anchor="end">1.3</text>
<text transform="translate(29.3 703.81) scale(1 1.07)" font-size="11.6" text-anchor="end">1.4</text>
<text transform="translate(29.3 658.25) scale(1 1.07)" font-size="11.6" text-anchor="end">1.5</text>
<text transform="translate(55.75 918.2) scale(1 1.07)" font-size="11.6" text-anchor="middle">10<tspan font-size="9.3" dy="-5.9">-1</tspan></text>
<text transform="translate(127.95 918.2) scale(1 1.07)" font-size="11.6" text-anchor="middle">10<tspan font-size="9.3" dy="-5.9">0</tspan></text>
<text transform="translate(200.15 918.2) scale(1 1.07)" font-size="11.6" text-anchor="middle">10<tspan font-size="9.3" dy="-5.9">1</tspan></text>
<text transform="translate(272.35 918.2) scale(1 1.07)" font-size="11.6" text-anchor="middle">10<tspan font-size="9.3" dy="-5.9">2</tspan></text>
<text x="164.2" y="928" font-size="11.7" text-anchor="middle">U<tspan font-size="9.4" dy="3.2">MW</tspan></text>
<text transform="translate(9.9 767.9) rotate(-90)" font-size="11.45" text-anchor="middle">slope</text>
<text x="46.9" y="656.4" font-size="11.6" word-spacing="0.26" xml:space="preserve">y = 0.994 +0.002 x<tspan dy="3.4" font-size="9.3">1</tspan><tspan dy="-3.4" font-size="11.6"> -0.013 x</tspan><tspan dy="3.4" font-size="9.3">2</tspan><tspan dy="-3.4" font-size="11.6"> +0.004 x</tspan><tspan dy="3.4" font-size="9.3">1</tspan><tspan dy="-3.4" font-size="11.6"> x</tspan><tspan dy="3.4" font-size="9.3">2</tspan></text>
<text x="46.9" y="677.3" font-size="11.6" xml:space="preserve">R<tspan font-size="9.3" dy="-5.1">2</tspan><tspan dy="5.1" font-size="11.6"> = 0.44</tspan></text>
</g>
<g>
<clipPath id="cp21"><rect x="364.1" y="631.4" width="259.4" height="273"/></clipPath>
<g clip-path="url(#cp21)">
<line x1="385.35" y1="792.47" x2="601.95" y2="794.11" stroke="#000000" stroke-width="0.41"/>
<line x1="385.35" y1="795.04" x2="601.95" y2="794.11" stroke="#ff0000" stroke-width="0.41"/>
<line x1="385.35" y1="797.38" x2="601.95" y2="794.11" stroke="#0000ff" stroke-width="0.41"/>
</g>
<g clip-path="url(#cp21)">
<path d="M385.35 756.5V768.7M383.35 756.5h4M383.35 768.7h4" stroke="#ff00ff" stroke-width="0.45" fill="none"/>
<path d="M601.95 818.4V871M599.95 818.4h4M599.95 871h4" stroke="#ff00ff" stroke-width="0.45" fill="none"/>
<path d="M385.35 804V816.6M383.35 804h4M383.35 816.6h4" stroke="#00ffff" stroke-width="0.45" fill="none"/>
<path d="M601.95 861V903M599.95 861h4M599.95 903h4" stroke="#00ffff" stroke-width="0.45" fill="none"/>
</g>
<rect x="381.55" y="758.8" width="7.6" height="7.6" fill="none" stroke="#ff00ff" stroke-width="0.45"/>
<polygon points="598.25,847.18 605.65,847.18 601.95,840.98" fill="none" stroke="#ff00ff" stroke-width="0.45"/>
<rect x="380.35" y="805.3" width="10" height="10" fill="none" stroke="#00ffff" stroke-width="0.45"/>
<polygon points="596.95,885.28 606.95,885.28 601.95,877.08" fill="none" stroke="#00ffff" stroke-width="0.45"/>
<path d="M385.35 792.1V794.1M383.35 792.1h4M383.35 794.1h4" stroke="#000000" stroke-width="0.36" fill="none"/>
<path d="M457.55 792.4V794.4M455.55 792.4h4M455.55 794.4h4" stroke="#000000" stroke-width="0.36" fill="none"/>
<path d="M529.75 792.6V794.6M527.75 792.6h4M527.75 794.6h4" stroke="#000000" stroke-width="0.36" fill="none"/>
<path d="M601.95 793.8V795.8M599.95 793.8h4M599.95 795.8h4" stroke="#000000" stroke-width="0.36" fill="none"/>
<rect x="381.65" y="789.4" width="7.4" height="7.4" fill="#000000"/>
<rect x="453.85" y="789.7" width="7.4" height="7.4" fill="#000000"/>
<rect x="526.05" y="789.9" width="7.4" height="7.4" fill="#000000"/>
<rect x="598.25" y="791.1" width="7.4" height="7.4" fill="#000000"/>
<path d="M385.35 792.2V794.2M383.35 792.2h4M383.35 794.2h4" stroke="#ff0000" stroke-width="0.34" fill="none"/>
<path d="M457.55 793V795M455.55 793h4M455.55 795h4" stroke="#ff0000" stroke-width="0.34" fill="none"/>
<path d="M529.75 792V794M527.75 792h4M527.75 794h4" stroke="#ff0000" stroke-width="0.34" fill="none"/>
<path d="M601.95 793.5V795.5M599.95 793.5h4M599.95 795.5h4" stroke="#ff0000" stroke-width="0.34" fill="none"/>
<polygon points="381.65,790.68 389.05,790.68 385.35,796.98" fill="#ff0000"/>
<polygon points="453.85,791.48 461.25,791.48 457.55,797.78" fill="#ff0000"/>
<polygon points="526.05,790.48 533.45,790.48 529.75,796.78" fill="#ff0000"/>
<polygon points="598.25,791.98 605.65,791.98 601.95,798.28" fill="#ff0000"/>
<path d="M385.35 795.4V801.4M383.35 795.4h4M383.35 801.4h4" stroke="#0000ff" stroke-width="0.34" fill="none"/>
<path d="M457.55 792.2V794.2M455.55 792.2h4M455.55 794.2h4" stroke="#0000ff" stroke-width="0.34" fill="none"/>
<path d="M529.75 792.6V794.6M527.75 792.6h4M527.75 794.6h4" stroke="#0000ff" stroke-width="0.34" fill="none"/>
<path d="M601.95 793.9V795.9M599.95 793.9h4M599.95 795.9h4" stroke="#0000ff" stroke-width="0.34" fill="none"/>
<polygon points="381.65,800.92 389.05,800.92 385.35,794.62" fill="#0000ff"/>
<polygon points="453.85,795.72 461.25,795.72 457.55,789.42" fill="#0000ff"/>
<polygon points="526.05,796.12 533.45,796.12 529.75,789.82" fill="#0000ff"/>
<polygon points="598.25,797.42 605.65,797.42 601.95,791.12" fill="#0000ff"/>
<rect x="364.1" y="631.4" width="259.4" height="273" fill="none" stroke="#262626" stroke-width="0.6"/>
<path d="M385.35 904.4v-5M385.35 631.4v5M457.55 904.4v-5M457.55 631.4v5M529.75 904.4v-5M529.75 631.4v5M601.95 904.4v-5M601.95 631.4v5M364.1 904.4h5M623.5 904.4h-5M364.1 849.8h5M623.5 849.8h-5M364.1 795.2h5M623.5 795.2h-5M364.1 740.6h5M623.5 740.6h-5M364.1 686h5M623.5 686h-5M364.1 631.4h5M623.5 631.4h-5" stroke="#262626" stroke-width="0.5" fill="none"/>
<text transform="translate(358.9 908.65) scale(1 1.07)" font-size="11.6" text-anchor="end">-2</text>
<text transform="translate(358.9 854.05) scale(1 1.07)" font-size="11.6" text-anchor="end">-1.9</text>
<text transform="translate(358.9 799.45) scale(1 1.07)" font-size="11.6" text-anchor="end">-1.8</text>
<text transform="translate(358.9 744.85) scale(1 1.07)" font-size="11.6" text-anchor="end">-1.7</text>
<text transform="translate(358.9 690.25) scale(1 1.07)" font-size="11.6" text-anchor="end">-1.6</text>
<text transform="translate(358.9 635.65) scale(1 1.07)" font-size="11.6" text-anchor="end">-1.5</text>
<text transform="translate(385.35 918.2) scale(1 1.07)" font-size="11.6" text-anchor="middle">10<tspan font-size="9.3" dy="-5.9">-1</tspan></text>
<text transform="translate(457.55 918.2) scale(1 1.07)" font-size="11.6" text-anchor="middle">10<tspan font-size="9.3" dy="-5.9">0</tspan></text>
<text transform="translate(529.75 918.2) scale(1 1.07)" font-size="11.6" text-anchor="middle">10<tspan font-size="9.3" dy="-5.9">1</tspan></text>
<text transform="translate(601.95 918.2) scale(1 1.07)" font-size="11.6" text-anchor="middle">10<tspan font-size="9.3" dy="-5.9">2</tspan></text>
<text x="493.8" y="928" font-size="11.7" text-anchor="middle">U<tspan font-size="9.4" dy="3.2">MW</tspan></text>
<text transform="translate(335 767.9) rotate(-90)" font-size="11.45" text-anchor="middle">intercept</text>
<text x="376.5" y="656.4" font-size="11.6" word-spacing="0.26" xml:space="preserve">y = -1.796 -0.001 x<tspan dy="3.4" font-size="9.3">1</tspan><tspan dy="-3.4" font-size="11.6"> +0.006 x</tspan><tspan dy="3.4" font-size="9.3">2</tspan><tspan dy="-3.4" font-size="11.6"> -0.003 x</tspan><tspan dy="3.4" font-size="9.3">1</tspan><tspan dy="-3.4" font-size="11.6"> x</tspan><tspan dy="3.4" font-size="9.3">2</tspan></text>
<text x="376.5" y="677.3" font-size="11.6" xml:space="preserve">R<tspan font-size="9.3" dy="-5.1">2</tspan><tspan dy="5.1" font-size="11.6"> = 0.41</tspan></text>
</g>
<g>
<clipPath id="cp22"><rect x="694" y="631.4" width="259.4" height="273"/></clipPath>
<g clip-path="url(#cp22)">
<line x1="715.25" y1="905.54" x2="931.85" y2="902.12" stroke="#000000" stroke-width="0.41"/>
<line x1="715.25" y1="896.02" x2="931.85" y2="899.75" stroke="#ff0000" stroke-width="0.41"/>
<line x1="715.25" y1="887.34" x2="931.85" y2="897.57" stroke="#0000ff" stroke-width="0.41"/>
</g>
<g clip-path="url(#cp22)">
<path d="M715.25 796.8V808.8M713.25 796.8h4M713.25 808.8h4" stroke="#ff00ff" stroke-width="0.45" fill="none"/>
<path d="M931.85 724.4V762.4M929.85 724.4h4M929.85 762.4h4" stroke="#ff00ff" stroke-width="0.45" fill="none"/>
<path d="M715.25 787.8V799.8M713.25 787.8h4M713.25 799.8h4" stroke="#00ffff" stroke-width="0.45" fill="none"/>
<path d="M931.85 748.4V770.4M929.85 748.4h4M929.85 770.4h4" stroke="#00ffff" stroke-width="0.45" fill="none"/>
</g>
<rect x="711.45" y="799" width="7.6" height="7.6" fill="none" stroke="#ff00ff" stroke-width="0.45"/>
<polygon points="928.15,745.88 935.55,745.88 931.85,739.68" fill="none" stroke="#ff00ff" stroke-width="0.45"/>
<rect x="710.25" y="788.8" width="10" height="10" fill="none" stroke="#00ffff" stroke-width="0.45"/>
<polygon points="926.85,762.68 936.85,762.68 931.85,754.48" fill="none" stroke="#00ffff" stroke-width="0.45"/>
<path d="M715.25 901.6V903.6M713.25 901.6h4M713.25 903.6h4" stroke="#000000" stroke-width="0.36" fill="none"/>
<path d="M787.45 901.3V903.3M785.45 901.3h4M785.45 903.3h4" stroke="#000000" stroke-width="0.36" fill="none"/>
<path d="M859.65 900.9V902.9M857.65 900.9h4M857.65 902.9h4" stroke="#000000" stroke-width="0.36" fill="none"/>
<path d="M931.85 900.9V902.9M929.85 900.9h4M929.85 902.9h4" stroke="#000000" stroke-width="0.36" fill="none"/>
<rect x="711.55" y="898.9" width="7.4" height="7.4" fill="#000000"/>
<rect x="783.75" y="898.6" width="7.4" height="7.4" fill="#000000"/>
<rect x="855.95" y="898.2" width="7.4" height="7.4" fill="#000000"/>
<rect x="928.15" y="898.2" width="7.4" height="7.4" fill="#000000"/>
<path d="M715.25 901.3V903.3M713.25 901.3h4M713.25 903.3h4" stroke="#ff0000" stroke-width="0.34" fill="none"/>
<path d="M787.45 900.8V902.8M785.45 900.8h4M785.45 902.8h4" stroke="#ff0000" stroke-width="0.34" fill="none"/>
<path d="M859.65 900.3V902.3M857.65 900.3h4M857.65 902.3h4" stroke="#ff0000" stroke-width="0.34" fill="none"/>
<path d="M931.85 900.3V902.3M929.85 900.3h4M929.85 902.3h4" stroke="#ff0000" stroke-width="0.34" fill="none"/>
<polygon points="711.55,899.78 718.95,899.78 715.25,906.08" fill="#ff0000"/>
<polygon points="783.75,899.28 791.15,899.28 787.45,905.58" fill="#ff0000"/>
<polygon points="855.95,898.78 863.35,898.78 859.65,905.08" fill="#ff0000"/>
<polygon points="928.15,898.78 935.55,898.78 931.85,905.08" fill="#ff0000"/>
<path d="M715.25 857.3V891.5M713.25 857.3h4M713.25 891.5h4" stroke="#0000ff" stroke-width="0.34" fill="none"/>
<path d="M787.45 900.1V902.1M785.45 900.1h4M785.45 902.1h4" stroke="#0000ff" stroke-width="0.34" fill="none"/>
<path d="M859.65 895V897M857.65 895h4M857.65 897h4" stroke="#0000ff" stroke-width="0.34" fill="none"/>
<path d="M931.85 891V893M929.85 891h4M929.85 893h4" stroke="#0000ff" stroke-width="0.34" fill="none"/>
<polygon points="711.55,876.92 718.95,876.92 715.25,870.62" fill="#0000ff"/>
<polygon points="783.75,903.62 791.15,903.62 787.45,897.32" fill="#0000ff"/>
<polygon points="855.95,898.52 863.35,898.52 859.65,892.22" fill="#0000ff"/>
<polygon points="928.15,894.52 935.55,894.52 931.85,888.22" fill="#0000ff"/>
<rect x="694" y="631.4" width="259.4" height="273" fill="none" stroke="#262626" stroke-width="0.6"/>
<path d="M715.25 904.4v-5M715.25 631.4v5M787.45 904.4v-5M787.45 631.4v5M859.65 904.4v-5M859.65 631.4v5M931.85 904.4v-5M931.85 631.4v5M694 904.4h5M953.4 904.4h-5M694 847.52h5M953.4 847.52h-5M694 790.65h5M953.4 790.65h-5M694 733.77h5M953.4 733.77h-5M694 676.9h5M953.4 676.9h-5" stroke="#262626" stroke-width="0.5" fill="none"/>
<text transform="translate(688.8 908.65) scale(1 1.07)" font-size="11.6" text-anchor="end">0</text>
<text transform="translate(688.8 851.77) scale(1 1.07)" font-size="11.6" text-anchor="end">0.05</text>
<text transform="translate(688.8 794.9) scale(1 1.07)" font-size="11.6" text-anchor="end">0.1</text>
<text transform="translate(688.8 738.02) scale(1 1.07)" font-size="11.6" text-anchor="end">0.15</text>
<text transform="translate(688.8 681.15) scale(1 1.07)" font-size="11.6" text-anchor="end">0.2</text>
<text transform="translate(715.25 918.2) scale(1 1.07)" font-size="11.6" text-anchor="middle">10<tspan font-size="9.3" dy="-5.9">-1</tspan></text>
<text transform="translate(787.45 918.2) scale(1 1.07)" font-size="11.6" text-anchor="middle">10<tspan font-size="9.3" dy="-5.9">0</tspan></text>
<text transform="translate(859.65 918.2) scale(1 1.07)" font-size="11.6" text-anchor="middle">10<tspan font-size="9.3" dy="-5.9">1</tspan></text>
<text transform="translate(931.85 918.2) scale(1 1.07)" font-size="11.6" text-anchor="middle">10<tspan font-size="9.3" dy="-5.9">2</tspan></text>
<text x="823.7" y="928" font-size="11.7" text-anchor="middle">U<tspan font-size="9.4" dy="3.2">MW</tspan></text>
<text transform="translate(665.2 767.9) rotate(-90)" font-size="11.45" text-anchor="middle">scatter</text>
<text x="706.4" y="656.4" font-size="11.6" word-spacing="0.26" xml:space="preserve">y = 0.000 +0.001 x<tspan dy="3.4" font-size="9.3">1</tspan><tspan dy="-3.4" font-size="11.6"> -0.012 x</tspan><tspan dy="3.4" font-size="9.3">2</tspan><tspan dy="-3.4" font-size="11.6"> +0.004 x</tspan><tspan dy="3.4" font-size="9.3">1</tspan><tspan dy="-3.4" font-size="11.6"> x</tspan><tspan dy="3.4" font-size="9.3">2</tspan></text>
<text x="706.4" y="677.3" font-size="11.6" xml:space="preserve">R<tspan font-size="9.3" dy="-5.1">2</tspan><tspan dy="5.1" font-size="11.6"> = 0.48</tspan></text>
</g>
</svg>
</body></html>
